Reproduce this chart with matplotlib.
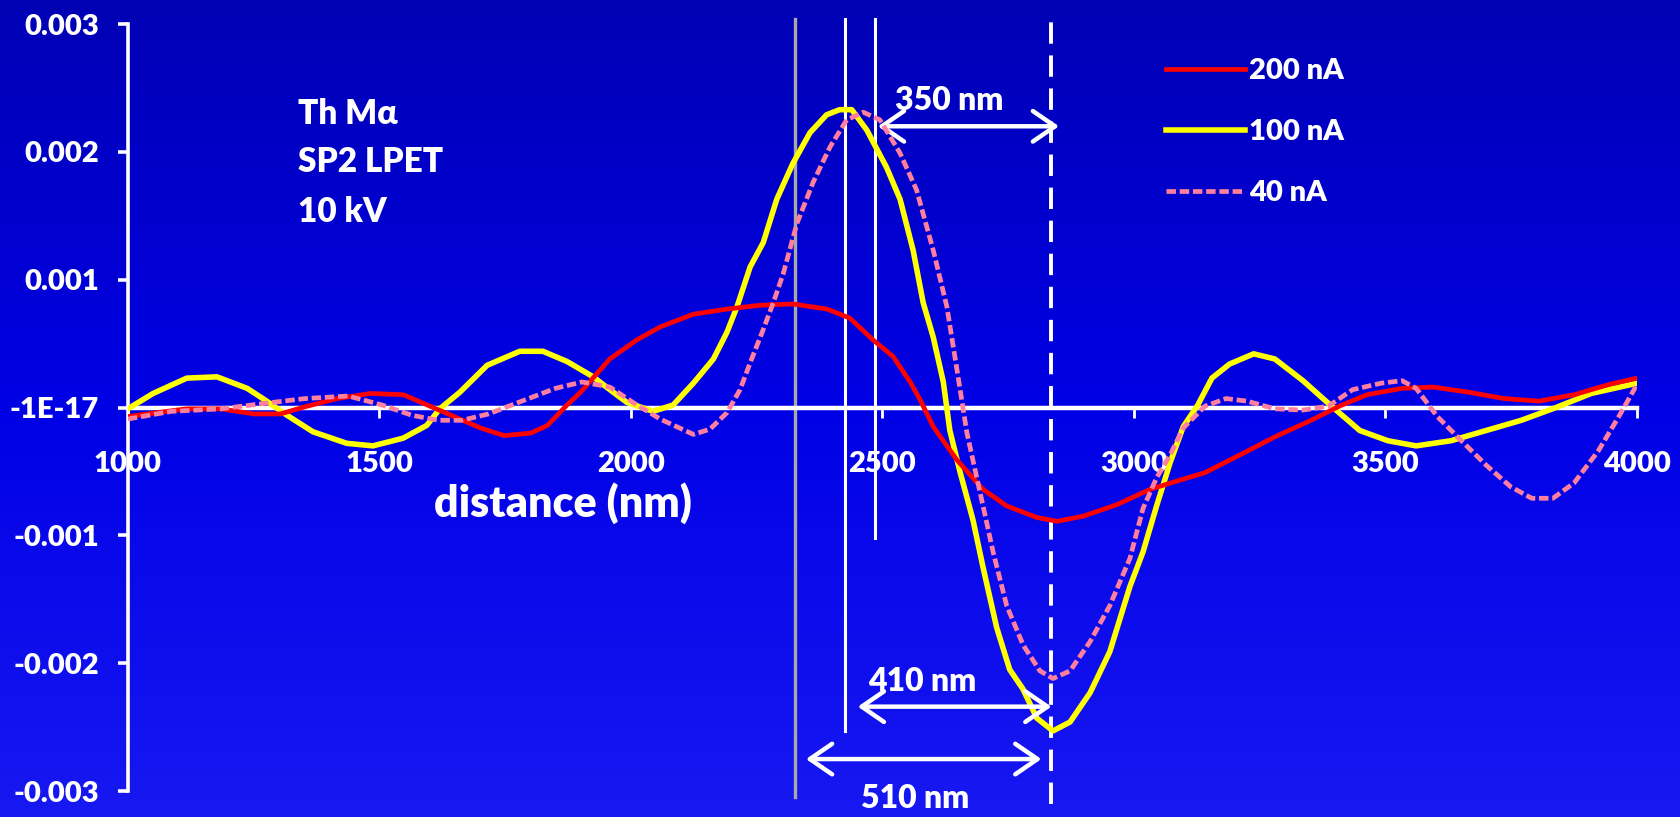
import numpy as np
import matplotlib
matplotlib.use("Agg")
import matplotlib.pyplot as plt
from matplotlib.colors import LinearSegmentedColormap

plt.rcParams['font.family'] = ['Lato', 'DejaVu Sans']
plt.rcParams['font.weight'] = 'heavy'
W = 'heavy'

# derivative profiles across the boundary, three beam currents
x_200 = [1000, 1117, 1183, 1250, 1303, 1356, 1416, 1482, 1548, 1595, 1648, 1701, 1748, 1801,
         1834, 1873, 1900, 1958, 2012, 2058, 2124, 2191, 2256, 2322, 2390, 2435, 2481, 2521,
         2555, 2575, 2601, 2648, 2700, 2747, 2807, 2847, 2899, 2966, 3032, 3098, 3141, 3211,
         3280, 3352, 3408, 3463, 3533, 3595, 3665, 3736, 3805, 3875, 3944, 4000]
y_200 = [-0.00007, -0.00001, -0.00001, -0.00005, -0.00005, 0.00001, 0.00007, 0.00011, 0.0001,
         0.00002, -0.00007, -0.00016, -0.00022, -0.0002, -0.00014, 0.00002, 0.00012, 0.00038,
         0.00053, 0.00063, 0.00073, 0.00077, 0.0008, 0.00081, 0.00077, 0.0007, 0.00053, 0.0004,
         0.0002, 0.00006, -0.00015, -0.00041, -0.00064, -0.00077, -0.00086, -0.00089, -0.00085,
         -0.00076, -0.00064, -0.00056, -0.00051, -0.00037, -0.00023, -0.0001, 0.00001, 0.0001,
         0.00015, 0.00016, 0.00012, 0.00007, 0.00005, 0.0001, 0.00018, 0.00023]

x_100 = [1000, 1050, 1117, 1177, 1237, 1276, 1316, 1368, 1435, 1487, 1547, 1594, 1620, 1660,
         1714, 1779, 1825, 1873, 1925, 1958, 1992, 2044, 2084, 2124, 2164, 2191, 2211, 2237,
         2263, 2290, 2322, 2356, 2389, 2415, 2439, 2469, 2508, 2535, 2561, 2581, 2601, 2621,
         2634, 2654, 2680, 2700, 2727, 2753, 2779, 2807, 2839, 2873, 2913, 2952, 2992, 3018,
         3045, 3072, 3098, 3127, 3155, 3190, 3238, 3280, 3336, 3393, 3449, 3505, 3561, 3630,
         3700, 3770, 3839, 3909, 4000]
y_100 = [-0.00001, 0.00011, 0.00023, 0.00024, 0.00015, 0.00005, -0.00006, -0.00019, -0.00028,
         -0.0003, -0.00024, -0.00014, -0.00001, 0.00012, 0.00033, 0.00044, 0.00044, 0.00036,
         0.00024, 0.00014, 0.00004, -0.00003, 0.00002, 0.00019, 0.00038, 0.00059, 0.00079,
         0.0011, 0.00129, 0.00163, 0.00191, 0.00215, 0.00229, 0.00233, 0.00233, 0.00217, 0.00188,
         0.00163, 0.00123, 0.00082, 0.00055, 0.0002, -0.00018, -0.0005, -0.00088, -0.00125,
         -0.00172, -0.00205, -0.0022, -0.00243, -0.00253, -0.00246, -0.00223, -0.00191, -0.0014,
         -0.00113, -0.00077, -0.00043, -0.00015, 0.00002, 0.00023, 0.00034, 0.00042, 0.00038,
         0.00021, 0.00001, -0.00018, -0.00026, -0.0003, -0.00026, -0.00018, -0.0001, 0.0,
         0.00011, 0.00019]

x_40 = [1000, 1086, 1186, 1266, 1352, 1438, 1505, 1564, 1617, 1664, 1717, 1783, 1850, 1903,
        1958, 2004, 2058, 2124, 2157, 2191, 2217, 2237, 2263, 2283, 2303, 2330, 2362, 2396,
        2429, 2462, 2495, 2535, 2568, 2601, 2628, 2648, 2668, 2700, 2720, 2747, 2780, 2813,
        2839, 2873, 2913, 2952, 2992, 3018, 3045, 3072, 3098, 3141, 3183, 3225, 3280, 3336,
        3386, 3435, 3491, 3533, 3561, 3603, 3651, 3700, 3749, 3791, 3833, 3875, 3923, 3964, 4000]
y_40 = [-0.00009, -0.00003, -0.00001, 0.00003, 0.00007, 0.00009, 0.00002, -0.00006, -0.0001,
        -0.0001, -0.00005, 0.00005, 0.00015, 0.0002, 0.00016, 0.00004, -0.00009, -0.00021,
        -0.00017, -0.00004, 0.00014, 0.00035, 0.00061, 0.00082, 0.00105, 0.00144, 0.00176,
        0.00204, 0.00225, 0.00231, 0.00225, 0.00199, 0.0017, 0.00123, 0.00079, 0.0003, -0.0002,
        -0.00077, -0.00113, -0.00155, -0.00186, -0.00206, -0.00212, -0.00206, -0.00183, -0.00155,
        -0.00118, -0.00079, -0.00055, -0.00037, -0.00016, 0.00001, 0.00007, 0.00005, -0.00001,
        -0.00002, 0.00001, 0.00014, 0.00019, 0.00021, 0.00015, -0.00007, -0.00026, -0.00045,
        -0.00062, -0.00071, -0.00071, -0.00059, -0.00034, -0.00007, 0.00018]

yticks = [-0.003, -0.002, -0.001, 0.0, 0.001, 0.002, 0.003]
ytick_labels = ['-0.003', '-0.002', '-0.001', '-1E-17', '0.001', '0.002', '0.003']
xticks = [1000, 1500, 2000, 2500, 3000, 3500, 4000]

# edge of the minimum and the three reference positions
x_min = 2836
widths = [510, 410, 350]

fig = plt.figure(figsize=(16.81, 8.17), dpi=100)

# blue backdrop, darker at the top
bg = fig.add_axes([0, 0, 1, 1], zorder=0)
cmap = LinearSegmentedColormap.from_list('bluebg', ['#1818f2', '#0000e6', '#0000b4'])
bg.imshow(np.linspace(0, 1, 256).reshape(-1, 1), aspect='auto', cmap=cmap,
          extent=[0, 1, 0, 1], origin='lower')
bg.axis('off')

ax = fig.add_axes([0.0761, 0.0318, 0.8977, 0.9388], zorder=1)
ax.patch.set_alpha(0)

# reference verticals
x_gray = x_min - widths[0]
x_w1 = x_min - widths[1]
x_w2 = x_min - widths[2]
ax.plot([x_gray, x_gray], [-0.00305, 0.00304], color='#a8a8a8', lw=2.4, clip_on=False, zorder=2)
ax.plot([x_w1, x_w1], [-0.00253, 0.00304], color='white', lw=2.2, clip_on=False, zorder=2)
ax.plot([x_w2, x_w2], [-0.00102, 0.00304], color='white', lw=2.2, clip_on=False, zorder=2)
ax.plot([x_min, x_min], [-0.0031, 0.00304], color='white', lw=2.8, dashes=(5.5, 3),
        clip_on=False, zorder=2)

ax.plot(x_200, y_200, color='#ff0000', lw=3.4, label='200 nA', zorder=4)
ax.plot(x_100, y_100, color='#ffff00', lw=4.0, label='100 nA', zorder=3)
ax.plot(x_40, y_40, color='#ff7f9f', lw=3.4, dashes=(2.0, 0.8), label='40 nA', zorder=5)

ax.set_xlim(1000, 4000)
ax.set_ylim(-0.003, 0.003)
ax.spines['top'].set_visible(False)
ax.spines['right'].set_visible(False)
ax.spines['bottom'].set_position(('data', 0))
ax.spines['bottom'].set_color('white')
ax.spines['bottom'].set_linewidth(3.2)
ax.spines['left'].set_color('white')
ax.spines['left'].set_linewidth(2.6)

ax.set_xticks(xticks)
ax.set_xticklabels([str(v) for v in xticks])
ax.set_yticks(yticks)
ax.set_yticklabels(ytick_labels)
ax.tick_params(axis='x', colors='white', direction='out', length=7, width=2, pad=24,
               labelsize=21)
ax.tick_params(axis='y', colors='white', direction='out', length=7, width=2.6, pad=14,
               labelsize=21)
for lab in ax.get_xticklabels() + ax.get_yticklabels():
    lab.set_fontweight(W)

ax.text(1865, -0.00075, 'distance (nm)', color='white', fontsize=31, fontweight=W,
        ha='center', va='center')

ax.text(1338, 0.00222, 'Th M\u03b1', color='white', fontsize=24, fontweight=W, va='baseline')
ax.text(1338, 0.00184, 'SP2 LPET', color='white', fontsize=24, fontweight=W, va='baseline')
ax.text(1338, 0.00145, '10 kV', color='white', fontsize=24, fontweight=W, va='baseline')

# width arrows
arrow_kw = dict(arrowstyle='<->,head_length=0.8,head_width=0.55', color='white', lw=3.2,
                shrinkA=0, shrinkB=0, mutation_scale=20)
ax.annotate('', xy=(x_w2 + 5, 0.0022), xytext=(x_min + 15, 0.0022), arrowprops=arrow_kw,
            annotation_clip=False)
ax.annotate('', xy=(x_w1 + 25, -0.00234), xytext=(x_min, -0.00234), arrowprops=arrow_kw,
            annotation_clip=False)
ax.annotate('', xy=(x_gray + 22, -0.00275), xytext=(x_min - 20, -0.00275), arrowprops=arrow_kw,
            annotation_clip=False)
ax.text(2632, 0.0024, f'{widths[2]} nm', color='white', fontsize=23, fontweight=W,
        ha='center', va='center')
ax.text(2579, -0.00214, f'{widths[1]} nm', color='white', fontsize=23, fontweight=W,
        ha='center', va='center')
ax.text(2565, -0.00306, f'{widths[0]} nm', color='white', fontsize=23, fontweight=W,
        ha='center', va='center', clip_on=False)

leg = ax.legend(loc='upper left', bbox_to_anchor=(1166 / 1681, 0.9285),
                bbox_transform=fig.transFigure, frameon=False, fontsize=21,
                handlelength=2.7, handletextpad=0.15, labelspacing=1.19,
                borderpad=0, borderaxespad=0)
for t in leg.get_texts():
    t.set_color('white')
    t.set_fontweight(W)

fig.savefig('out.png', dpi=100)
